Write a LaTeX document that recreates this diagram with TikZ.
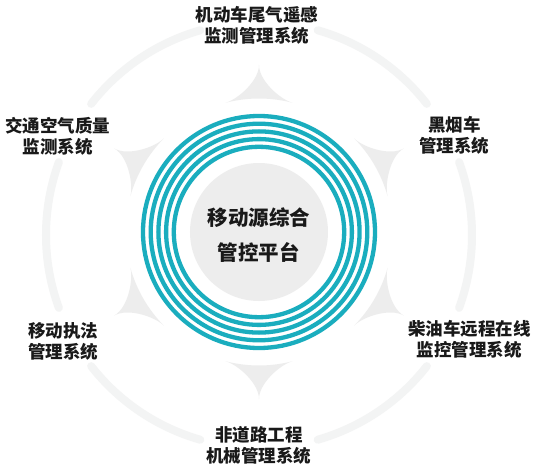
\documentclass[tikz,border=0pt]{standalone}
\usepackage{fontspec}
\newfontfamily\cjk{Noto Sans CJK SC}
\definecolor{ringteal}{RGB}{26,173,190}
\definecolor{spikegray}{RGB}{237,237,237}
\definecolor{diskgray}{RGB}{237,237,237}
\definecolor{arcgray}{RGB}{243,244,244}
\definecolor{txt}{RGB}{25,25,25}
\begin{document}
\begin{tikzpicture}[x=1pt,y=1pt,
  lbl/.style={font=\cjk\bfseries\fontsize{17.5}{21}\selectfont, text=txt, align=center, inner sep=0pt},
  hub/.style={font=\cjk\bfseries\fontsize{20.5}{35}\selectfont, text=txt, align=center, inner sep=0pt},
  ringline/.style={draw=ringteal, line width=4.3pt},
  outerarc/.style={draw=arcgray, line width=8pt, line cap=round},
  spike/.style={fill=spikegray}]
\useasboundingbox (-259,-237) rectangle (277,232);
\fill[white] (-259,-237) rectangle (277,232);
% outer broken circle
\begin{scope}[shift={(0,-3)}]
\foreach \s/\e in {38/74, 106/142, 160/200, 218/254, 286/322, -20/20}
  \draw[outerarc] (\s:213) arc[start angle=\s, end angle=\e, radius=213];
\end{scope}
% spikes
\foreach \a in {90,30,-30,-90,-150,150}
  \fill[spike, rotate=\a] (-14.5:133.5) .. controls (132.3,-21.8) and (151,0) .. (167,0)
     .. controls (151,0) and (132.3,21.8) .. (14.5:133.5)
     arc[start angle=14.5, end angle=-14.5, radius=133.5] -- cycle;
% rings
\foreach \r in {116,108.3,100.6,92.9,85.2}
  \draw[ringline] (0,0) circle[radius=\r];
\fill[diskgray] (0,0) circle[radius=69];
% hub text
\node[hub] (hub) at (0,-3.5) {移动源综合\\管控平台};
% labels
\node[lbl] (top) at (-2,206.5) {机动车尾气遥感\\监测管理系统};
\node[lbl] (ul) at (-201,95.5) {交通空气质量\\监测系统};
\node[lbl] (ur) at (195.5,96.5) {黑烟车\\管理系统};
\node[lbl] (ll) at (-195.5,-109) {移动执法\\管理系统};
\node[lbl] (lr) at (210.5,-107.5) {柴油车远程在线\\监控管理系统};
\node[lbl] (bot) at (0,-213) {非道路工程\\机械管理系统};
\end{tikzpicture}
\end{document}
